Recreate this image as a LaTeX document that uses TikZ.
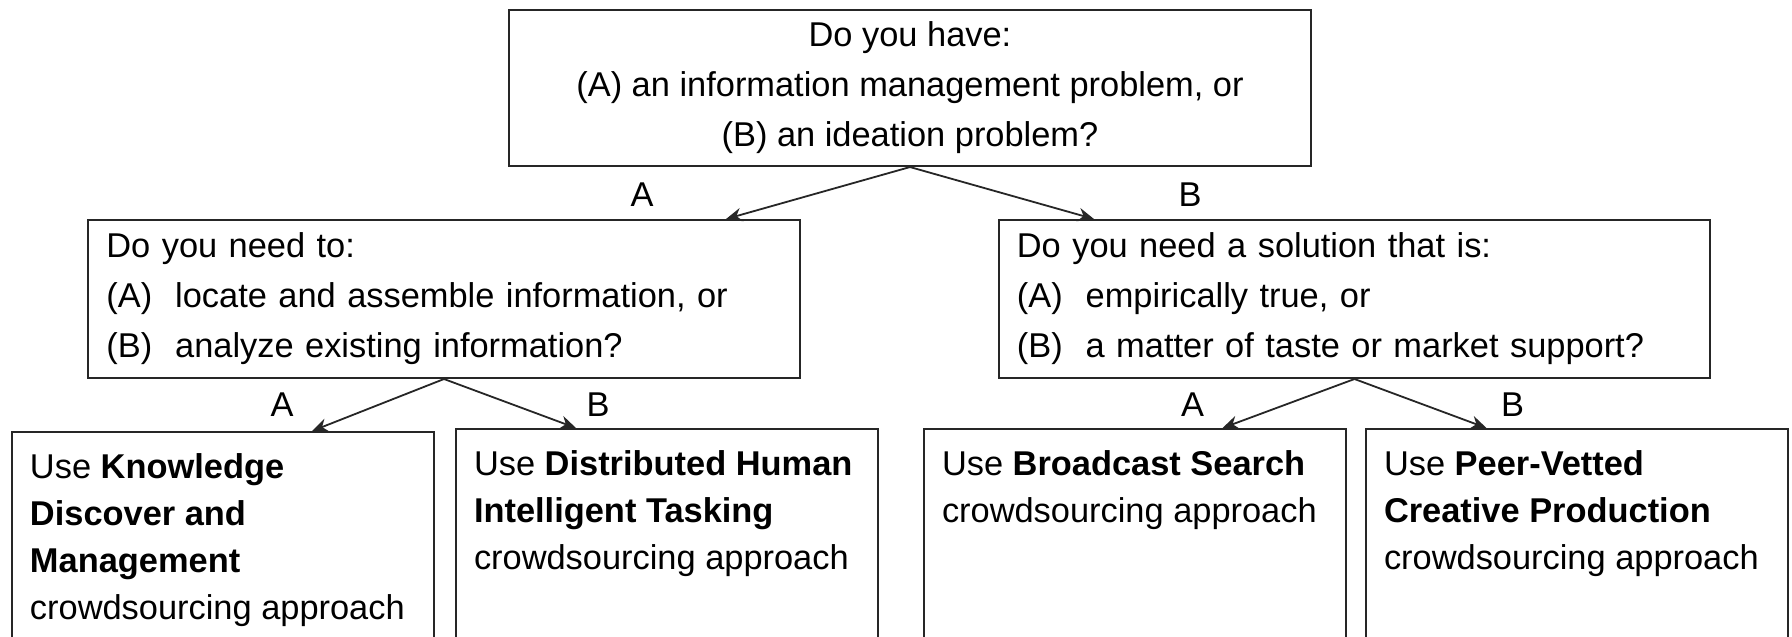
\documentclass[tikz,border=0pt]{standalone}
\usepackage{fontspec}
\setmainfont{Liberation Sans}
\usetikzlibrary{positioning,arrows.meta}

% top-aligned text for the open-bottom answer boxes
\newcommand{\leafbox}[1]{\parbox[t][60pt][t]{96.5pt}{\fontsize{8.6}{11.8}\selectfont\raggedright #1}}

\begin{document}
\begin{tikzpicture}[
  x=0.25pt, y=-0.25pt,
  font=\fontsize{8.6}{12.5}\selectfont,
  >={Stealth[length=4pt, width=3.4pt]},
  question/.style={draw=black!85, line width=0.5pt, inner xsep=4.5pt, inner ysep=3pt},
  rootq/.style={question, align=center, minimum width=200.5pt, minimum height=39pt},
  subq/.style={question, align=left, text width=168.8pt, minimum height=39.5pt},
  leaf/.style={draw=black!85, line width=0.5pt, anchor=north west,
               inner xsep=4.5pt, inner ysep=5.3pt},
  branch/.style={inner sep=0pt},
  flow/.style={->, line width=0.45pt, black!85},
]
\useasboundingbox (0,0) rectangle (1792,636);
\clip (0,0) rectangle (1792,636);

% ============ first question ============
\node[rootq] (q1) at (910,88)
  {Do you have:\\(A) an information management problem, or\\(B) an ideation problem?};

% ============ second questions ============
\node[subq] (qa) at (444,299)
  {Do you need to:\\(A)\ \ locate and assemble information, or\\(B)\ \ analyze existing information?};
\node[subq] (qb) at (1354.5,299)
  {Do you need a solution that is:\\(A)\ \ empirically true, or\\(B)\ \ a matter of taste or market support?};

\draw[flow] (q1.south) -- ([xshift=-46pt]q1.south |- qa.north);
\draw[flow] (q1.south) -- ([xshift=46pt]q1.south |- qb.north);
\node[branch] (q1a) at ([xshift=-67pt, yshift=-6.8pt]q1.south) {A};
\node[branch] (q1b) at ([xshift=70pt, yshift=-6.8pt]q1.south) {B};

% ============ answers (boxes run off the bottom) ============
\node[leaf] (kdm) at (11,431)
  {\leafbox{Use \textbf{Knowledge}\\\textbf{Discover and}\\\textbf{Management}\\crowdsourcing approach}};
\node[leaf] (dhit) at (455,428)
  {\leafbox{Use \textbf{Distributed Human}\\\textbf{Intelligent Tasking}\\crowdsourcing approach}};
\node[leaf] (bcs) at (923,428)
  {\leafbox{Use \textbf{Broadcast Search}\\crowdsourcing approach}};
\node[leaf] (pvcp) at (1365,428)
  {\leafbox{Use \textbf{Peer-Vetted}\\\textbf{Creative Production}\\crowdsourcing approach}};

\draw[flow] (qa.south) -- ([xshift=-33pt]qa.south |- kdm.north);
\draw[flow] (qa.south) -- ([xshift=33pt]qa.south |- dhit.north);
\node[branch] (qaa) at ([xshift=-40.5pt, yshift=-6.3pt]qa.south) {A};
\node[branch] (qab) at ([xshift=38.5pt, yshift=-6.3pt]qa.south) {B};

\draw[flow] (qb.south) -- ([xshift=-33pt]qb.south |- bcs.north);
\draw[flow] (qb.south) -- ([xshift=33pt]qb.south |- pvcp.north);
\node[branch] (qba) at ([xshift=-40.5pt, yshift=-6.3pt]qb.south) {A};
\node[branch] (qbb) at ([xshift=39.5pt, yshift=-6.3pt]qb.south) {B};

\end{tikzpicture}
\end{document}
